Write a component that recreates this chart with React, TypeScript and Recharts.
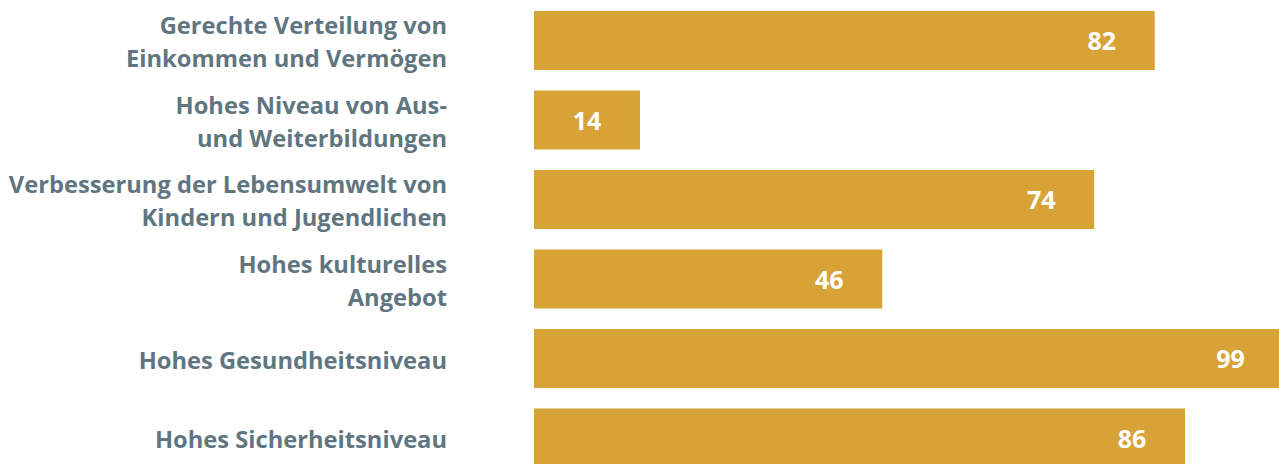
import { BarChart, Bar, XAxis, YAxis, LabelList } from "recharts";

/* ── Data ── */
const categories = [
    "Gerechte Verteilung von\nEinkommen und Vermögen",
    "Hohes Niveau von Aus-\nund Weiterbildungen",
    "Verbesserung der Lebensumwelt von\nKindern und Jugendlichen",
    "Hohes kulturelles\nAngebot",
    "Hohes Gesundheitsniveau",
    "Hohes Sicherheitsniveau",
];
const values = [82, 14, 74, 46, 99, 86];

const data = categories.map((name, i) => ({ name, value: values[i] }));

const FONT = "'Open Sans', 'Noto Sans', sans-serif";
const BAR_COLOR = "#D7A236";
const LABEL_COLOR = "#5F7681";

/* ── Category tick, multi-line, right aligned ── */
// eslint-disable-next-line @typescript-eslint/no-explicit-any
const CategoryTick = (props: any) => {
    const { x, y, payload } = props;
    const lines = String(payload.value).split("\n");
    const lineH = 33;
    const start = y - ((lines.length - 1) * lineH) / 2;
    return (
        <text x={x} y={start} textAnchor="end" fill={LABEL_COLOR} fontFamily={FONT} fontWeight={700} fontSize={23.7}>
            {lines.map((l, i) => (
                <tspan key={i} x={x} y={start + i * lineH} dy="0.42em">
                    {l}
                </tspan>
            ))}
        </text>
    );
};

/* ── Value label inside bar end ── */
// eslint-disable-next-line @typescript-eslint/no-explicit-any
const ValueLabel = (props: any) => {
    const { x, y, width, height, value } = props;
    return (
        <text
            x={x + width - 53}
            y={y + height / 2}
            dy="0.38em"
            textAnchor="middle"
            fill="#ffffff"
            fontFamily={FONT}
            fontWeight={700}
            fontSize={25}
        >
            {value}
        </text>
    );
};

export default function App() {
    return (
        <div style={{ position: "fixed", left: 0, top: 0, width: 1279, height: 464, overflow: "hidden", background: "#fff" }}>
            <BarChart
                width={1291}
                height={478}
                data={data}
                layout="vertical"
                margin={{ top: 1, right: 0, bottom: 0, left: 0 }}
                barCategoryGap={20}
            >
                <XAxis type="number" domain={[0, 100]} hide />
                <YAxis
                    type="category"
                    dataKey="name"
                    width={534}
                    axisLine={false}
                    tickLine={false}
                    tickSize={0}
                    tickMargin={87}
                    interval={0}
                    tick={<CategoryTick />}
                />
                <Bar dataKey="value" fill={BAR_COLOR} barSize={59} isAnimationActive={false}>
                    <LabelList dataKey="value" content={<ValueLabel />} />
                </Bar>
            </BarChart>
        </div>
    );
}
